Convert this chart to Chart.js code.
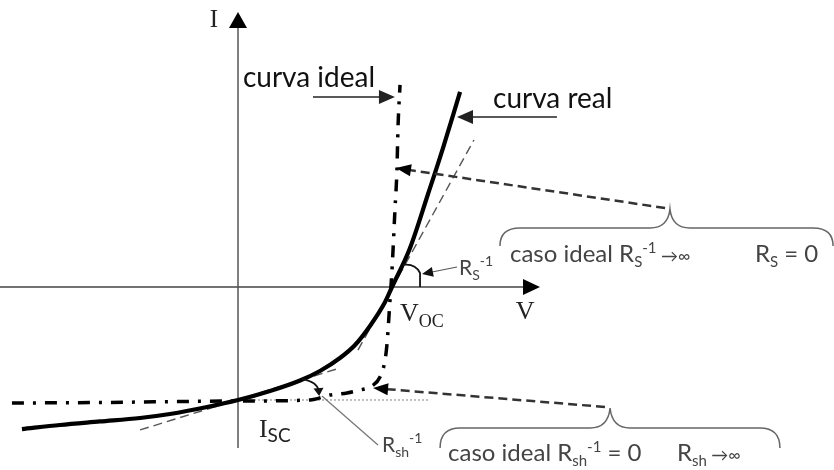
<!DOCTYPE html>
<html>
<head>
<meta charset="utf-8">
<script src="https://cdn.jsdelivr.net/npm/chart.js@4.4.1/dist/chart.umd.min.js"></script>
<style>
  html, body { margin: 0; padding: 0; background: #fff; }
  #wrap { width: 834px; height: 470px; position: relative; }
</style>
</head>
<body>
<div id="wrap"><canvas id="iv"></canvas></div>
<script>
// Voltage in units of V_OC, current in units of I_SC (short-circuit point at I = -1)
const realV  = [-1.403, -1.156, -0.896, -0.636, -0.442, -0.201, 0, 0.208, 0.403, 0.532, 0.662, 0.760, 0.857, 0.955, 1.0, 1.117, 1.234, 1.331, 1.442];
const realI  = [-1.257, -1.221, -1.190, -1.159, -1.124, -1.062, -1, -0.920, -0.827, -0.743, -0.628, -0.513, -0.345, -0.133, 0, 0.345, 0.823, 1.230, 1.726];

const idealV = [-1.468, -0.896, 0, 0.468, 0.597, 0.708, 0.792, 0.870, 0.922, 0.955, 0.968, 0.987, 1.0, 1.019, 1.032, 1.039, 1.052];
const idealI = [-1.027, -1.022, -1.009, -1.0, -0.956, -0.938, -0.912, -0.876, -0.796, -0.646, -0.496, -0.115, 0.150, 0.681, 1.035, 1.416, 1.788];

// tangent at V_OC (slope 1/R_S) and tangent at I_SC (slope 1/R_sh)
const tanSV  = [0.779, 1.532];
const tanSI  = [-0.558, 1.301];
const tanShV = [-0.636, 0.662];
const tanShI = [-1.265, -0.717];

// horizontal reference through I_SC
const iscRefV = [0, 1.234];
const iscRefI = [-1, -1];

const V_OC = 1;
const I_SC = -1;

const pts = (xs, ys) => xs.map((x, i) => ({ x, y: ys[i] }));

const SANS = "Lato, 'Liberation Sans', sans-serif";
const SERIF = "'Liberation Serif', 'DejaVu Serif', serif";

function arrowHead(ctx, x0, y0, x1, y1, len, hw) {
  const a = Math.atan2(y1 - y0, x1 - x0);
  const c = Math.cos(a), s = Math.sin(a);
  ctx.beginPath();
  ctx.moveTo(x1, y1);
  ctx.lineTo(x1 - len * c + hw * s, y1 - len * s - hw * c);
  ctx.lineTo(x1 - len * c - hw * s, y1 - len * s + hw * c);
  ctx.closePath();
  ctx.fill();
}

function arrow(ctx, x0, y0, x1, y1, o) {
  const a = Math.atan2(y1 - y0, x1 - x0);
  ctx.save();
  ctx.strokeStyle = o.color; ctx.fillStyle = o.headColor || o.color;
  ctx.lineWidth = o.width;
  ctx.setLineDash(o.dash || []);
  ctx.beginPath();
  ctx.moveTo(x0, y0);
  ctx.lineTo(x1 - o.len * 0.7 * Math.cos(a), y1 - o.len * 0.7 * Math.sin(a));
  ctx.stroke();
  ctx.setLineDash([]);
  arrowHead(ctx, x0, y0, x1, y1, o.len, o.hw);
  ctx.restore();
}

// text pieces: [string, font, baseline offset]
function rich(ctx, x, y, parts) {
  for (const [t, f, dy] of parts) {
    ctx.font = f;
    ctx.fillText(t, x, y + (dy || 0));
    x += ctx.measureText(t).width;
  }
  return x;
}

// curly brace opening towards the bottom, tip pointing up
function brace(ctx, xl, xr, xm, yBase, yTip, yEnd) {
  const r = 20;
  ctx.beginPath();
  ctx.moveTo(xl, yEnd);
  ctx.quadraticCurveTo(xl, yBase, xl + r, yBase);
  ctx.lineTo(xm - r, yBase);
  ctx.quadraticCurveTo(xm - 2, yBase, xm, yTip);
  ctx.quadraticCurveTo(xm + 2, yBase, xm + r, yBase);
  ctx.lineTo(xr - r, yBase);
  ctx.quadraticCurveTo(xr, yBase, xr, yEnd);
  ctx.stroke();
}

const decor = {
  id: 'decor',
  beforeDatasetsDraw(chart) {
    const ctx = chart.ctx, X = chart.scales.x, Y = chart.scales.y;
    const x = v => X.getPixelForValue(v), y = i => Y.getPixelForValue(i);
    ctx.save();
    // V axis
    ctx.strokeStyle = '#444'; ctx.fillStyle = '#000'; ctx.lineWidth = 1.5;
    ctx.beginPath(); ctx.moveTo(X.left, y(0)); ctx.lineTo(x(1.90), y(0)); ctx.stroke();
    arrowHead(ctx, X.left, y(0), x(1.961), y(0), 17, 8);
    // I axis
    ctx.strokeStyle = '#555';
    ctx.beginPath(); ctx.moveTo(x(0), y(-1.425)); ctx.lineTo(x(0), y(2.33)); ctx.stroke();
    arrowHead(ctx, x(0), y(-1.425), x(0), y(2.434), 16, 9);
    ctx.restore();
  },
  afterDatasetsDraw(chart) {
    const ctx = chart.ctx, X = chart.scales.x, Y = chart.scales.y;
    const x = v => X.getPixelForValue(v), y = i => Y.getPixelForValue(i);
    ctx.save();
    ctx.textAlign = 'left'; ctx.textBaseline = 'alphabetic';

    // axis names
    ctx.fillStyle = '#222';
    ctx.textAlign = 'center'; ctx.textBaseline = 'middle';
    ctx.font = '25px ' + SERIF;
    ctx.fillText('I', x(-0.156), y(2.363));
    ctx.font = '26px ' + SERIF;
    ctx.fillText('V', x(1.864), y(-0.221));
    ctx.textAlign = 'left'; ctx.textBaseline = 'alphabetic';

    // V_OC and I_SC
    rich(ctx, x(1.052), y(-0.301), [['V', '26px ' + SERIF, 0], ['OC', '18px ' + SERIF, 6]]);
    rich(ctx, x(0.136), y(-1.327), [['I', '26px ' + SERIF, 0], ['SC', '19px ' + SANS, 5]]);

    // curve labels
    ctx.fillStyle = '#111';
    ctx.font = '28px ' + SANS;
    ctx.fillText('curva ideal', x(0.032), y(1.770));
    ctx.fillText('curva real', x(1.656), y(1.584));
    arrow(ctx, x(0.487), y(1.681), x(1.019), y(1.681), { color: '#222', width: 1.5, len: 16, hw: 7 });
    arrow(ctx, x(2.071), y(1.504), x(1.422), y(1.504), { color: '#222', width: 1.5, len: 16, hw: 7 });

    // dashed pointers from the braces to the ideal curve
    arrow(ctx, x(2.773), y(0.699), x(1.026), y(1.053), { color: '#333', headColor: '#000', width: 2.5, dash: [9, 5], len: 15, hw: 6 });
    arrow(ctx, x(2.383), y(-1.062), x(0.877), y(-0.894), { color: '#333', headColor: '#000', width: 2.5, dash: [9, 5], len: 15, hw: 6 });

    // braces
    ctx.strokeStyle = '#666'; ctx.lineWidth = 1.5;
    brace(ctx, x(1.701), x(3.864), x(2.805), y(0.522), y(0.690), y(0.363));
    brace(ctx, x(1.312), x(3.519), x(2.416), y(-1.248), y(-1.071), y(-1.425));

    // slope marks: R_S at V_OC
    ctx.strokeStyle = '#111'; ctx.lineWidth = 1.8;
    ctx.beginPath();
    ctx.moveTo(x(1.071), y(0.195));
    ctx.quadraticCurveTo(x(1.15), y(0.21), x(1.182), y(0.124));
    ctx.lineTo(x(1.182), y(0));
    ctx.stroke();
    arrow(ctx, x(1.422), y(0.177), x(1.195), y(0.115), { color: '#555', headColor: '#111', width: 1.2, len: 11, hw: 5 });

    // slope mark: R_sh at I_SC
    ctx.strokeStyle = '#111'; ctx.fillStyle = '#111'; ctx.lineWidth = 1.8;
    ctx.beginPath();
    ctx.moveTo(x(0.416), y(-0.816));
    ctx.quadraticCurveTo(x(0.52), y(-0.84), x(0.525), y(-0.93));
    ctx.stroke();
    arrowHead(ctx, x(0.52), y(-0.85), x(0.527), y(-0.965), 8, 5);
    ctx.strokeStyle = '#777'; ctx.lineWidth = 1.3;
    ctx.beginPath(); ctx.moveTo(x(0.909), y(-1.398)); ctx.lineTo(x(0.545), y(-0.965)); ctx.stroke();

    // resistance labels
    ctx.fillStyle = '#444';
    rich(ctx, x(1.435), y(0.106), [['R', '21px ' + SANS, 0], ['S', '14px ' + SANS, 5], ['-1', '14px ' + SANS, -9]]);
    rich(ctx, x(0.935), y(-1.460), [['R', '21px ' + SANS, 0], ['sh', '14px ' + SANS, 5], ['-1', '14px ' + SANS, -9]]);

    // ideal-case notes
    rich(ctx, x(1.766), y(0.221), [['caso ideal R', '24px ' + SANS, 0], ['S', '15px ' + SANS, 5], ['-1', '15px ' + SANS, -9], [' \u2192\u221E', '17px ' + SANS, 0]]);
    rich(ctx, x(3.357), y(0.221), [['R', '24px ' + SANS, 0], ['S', '15px ' + SANS, 5], [' = 0', '24px ' + SANS, 0]]);
    rich(ctx, x(1.364), y(-1.540), [['caso ideal R', '24px ' + SANS, 0], ['sh', '15px ' + SANS, 5], ['-1', '15px ' + SANS, -9], [' = 0', '24px ' + SANS, 0]]);
    rich(ctx, x(2.851), y(-1.540), [['R', '24px ' + SANS, 0], ['sh', '15px ' + SANS, 5], [' \u2192\u221E', '17px ' + SANS, 0]]);

    ctx.restore();
  }
};

new Chart(document.getElementById('iv'), {
  type: 'scatter',
  data: {
    datasets: [
      { label: 'curva real', data: pts(realV, realI), showLine: true, borderColor: '#000', borderWidth: 4.2,
        pointRadius: 0, cubicInterpolationMode: 'monotone', order: 0 },
      { label: 'curva ideal', data: pts(idealV, idealI), showLine: true, borderColor: '#000', borderWidth: 3.5,
        borderDash: [12, 9, 3, 9], pointRadius: 0, cubicInterpolationMode: 'monotone', order: 1 },
      { label: 'R_S tangente', data: pts(tanSV, tanSI), showLine: true, borderColor: '#555', borderWidth: 1.4,
        borderDash: [9, 5], pointRadius: 0, order: 2 },
      { label: 'R_sh tangente', data: pts(tanShV, tanShI), showLine: true, borderColor: '#555', borderWidth: 1.4,
        borderDash: [9, 5], pointRadius: 0, order: 2 },
      { label: 'I_SC', data: pts(iscRefV, iscRefI), showLine: true, borderColor: '#aaa', borderWidth: 1.5,
        borderDash: [2, 2], pointRadius: 0, order: 3 }
    ]
  },
  options: {
    responsive: true,
    maintainAspectRatio: false,
    animation: false,
    layout: { padding: 0 },
    plugins: { legend: { display: false }, tooltip: { enabled: false } },
    scales: {
      x: { type: 'linear', min: -1.5455, max: 3.8701, display: false },
      y: { type: 'linear', min: -1.6195, max: 2.5398, display: false }
    }
  },
  plugins: [decor]
});
</script>
</body>
</html>
